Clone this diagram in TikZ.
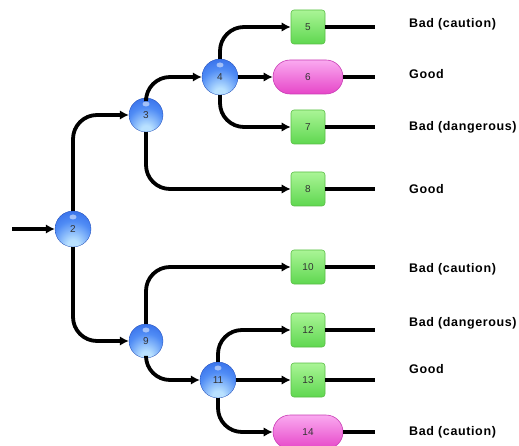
\documentclass[tikz,border=0pt]{standalone}
\usepackage{fontspec}
\setmainfont{Liberation Sans}
\newfontfamily\labfont[LetterSpace=5]{Liberation Sans}
\usetikzlibrary{arrows.meta}
\definecolor{gtop}{RGB}{170,245,150}
\definecolor{gbot}{RGB}{95,215,80}
\definecolor{gline}{RGB}{90,190,70}
\definecolor{ptop}{RGB}{250,170,240}
\definecolor{pbot}{RGB}{230,70,200}
\definecolor{pline}{RGB}{200,60,180}
\definecolor{bdark}{RGB}{35,90,225}
\definecolor{bmid}{RGB}{80,140,245}
\definecolor{blight}{RGB}{185,225,255}
\pgfdeclareradialshading{myball}{\pgfpoint{0bp}{-26bp}}{%
  color(0bp)=(blight); color(8bp)=(blight); color(28bp)=(bmid); color(50bp)=(bdark); color(80bp)=(bdark)}
\begin{document}
\begin{tikzpicture}[x=1pt,y=-1pt,
  ball/.style={circle,minimum size=36pt,inner sep=0pt,shading=myball,draw=bdark!80!black,line width=0.3pt,
    font=\fontsize{10}{10}\selectfont,text=black!80,
    path picture={\fill[white,opacity=0.5] ([yshift=-6pt]path picture bounding box.north) ellipse (3.5pt and 2.5pt);}},
  gbox/.style={rectangle,rounded corners=3pt,minimum width=34pt,minimum height=34pt,inner sep=0pt,top color=gtop,bottom color=gbot,draw=gline,line width=0.6pt,font=\fontsize{10}{10}\selectfont,text=black!80},
  pbox/.style={rectangle,rounded corners=17pt,minimum width=70pt,minimum height=34pt,inner sep=0pt,top color=ptop,bottom color=pbot,draw=pline,line width=0.6pt,font=\fontsize{10}{10}\selectfont,text=black!80},
  conn/.style={line width=3.8pt,rounded corners=24pt,-{Latex[length=9pt,width=9.5pt]}},
  tail/.style={line width=3.8pt},
  lab/.style={anchor=west,font=\labfont\bfseries\fontsize{12.5}{14}\selectfont,inner sep=0pt}]
\useasboundingbox (0,0) rectangle (519,446);
% nodes
\node[ball] (n2) at (73,229) {2};
\node[ball,minimum size=34pt] (n3) at (146,115) {3};
\node[ball] (n4) at (220,77) {4};
\node[gbox] (n5) at (308,27) {5};
\node[pbox] (n6) at (308,77) {6};
\node[gbox] (n7) at (308,127) {7};
\node[gbox] (n8) at (308,189) {8};
\node[ball,minimum size=34pt] (n9) at (146,341) {9};
\node[gbox] (n10) at (308,267) {10};
\node[ball] (n11) at (218,380) {11};
\node[gbox] (n12) at (308,330) {12};
\node[gbox] (n13) at (308,380) {13};
\node[pbox] (n14) at (308,432) {14};
% entry
\coordinate (start) at (12,229);
\draw[conn] (start) -- (n2);
% connectors
\draw[conn] (n2.north) |- (n3.west);
\draw[conn] (n2.south) |- (n9.west);
\draw[conn] (n3.north) |- (n4.west);
\draw[conn] (n3.south) |- (n8.west);
\draw[conn] (n4.north) |- (n5.west);
\draw[conn] (n4.east) -- (n6.west);
\draw[conn] (n4.south) |- (n7.west);
\draw[conn] (n9.north) |- (n10.west);
\draw[conn] (n9.south) |- (n11.west);
\draw[conn] (n11.north) |- (n12.west);
\draw[conn] (n11.east) -- (n13.west);
\draw[conn] (n11.south) |- (n14.west);
% tails and labels
\foreach \n/\y in {5/27,6/77,7/127,8/189,10/267,12/330,13/380,14/432}{
  \coordinate (e\n) at (375,\y);
  \draw[tail] (n\n.east) -- (e\n);
}
\node[lab] (l5) at (409,24) {Bad (caution)};
\node[lab] (l6) at (409,74) {Good};
\node[lab] (l7) at (409,127) {Bad (dangerous)};
\node[lab] (l8) at (409,189) {Good};
\node[lab] (l10) at (409,269) {Bad (caution)};
\node[lab] (l12) at (409,323) {Bad (dangerous)};
\node[lab] (l13) at (409,369) {Good};
\node[lab] (l14) at (409,432) {Bad (caution)};
\end{tikzpicture}
\end{document}
